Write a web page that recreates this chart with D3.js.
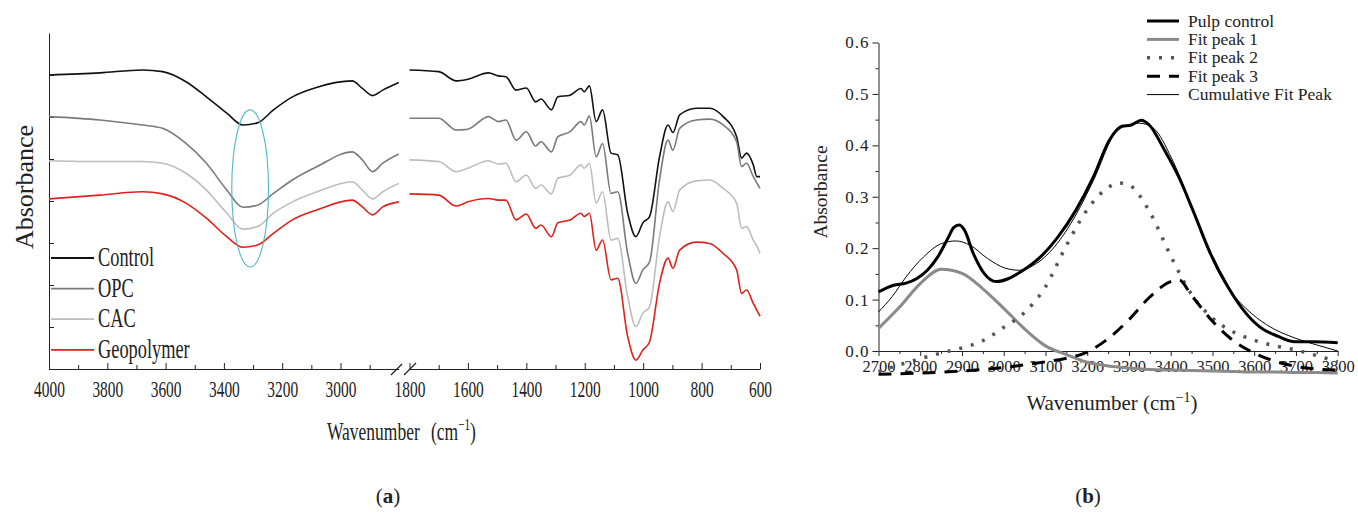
<!DOCTYPE html>
<html>
<head>
<meta charset="utf-8">
<script src="https://cdn.jsdelivr.net/npm/d3@7/dist/d3.min.js"></script>
<style>
    body { margin: 0; background: #fff; }
    svg text { font-family: 'Liberation Serif', 'Times New Roman', serif; fill: #222; }
</style>
</head>
<body>
<svg id="chart" width="1358" height="521"></svg>
<script>
//panel (a): wavenumbers of the two axis segments
const highWn = [4000, 3825, 3680, 3610, 3530, 3460, 3390, 3335, 3285, 3230, 3165, 3080, 2960, 2925, 2890, 2855, 2800]
const lowWn = [1800, 1700, 1640, 1600, 1530, 1495, 1470, 1435, 1400, 1368, 1350, 1314, 1292, 1250, 1213, 1202, 1184, 1161, 1139, 1110,
    1087, 1053, 1025, 1001, 978, 944, 915, 898, 875, 818, 772, 726, 680, 663, 646, 623, 611, 600]

//panel (a): absorbance (offset, arbitrary units)
const controlHigh = [7.00, 7.05, 7.12, 7.08, 6.84, 6.48, 6.09, 5.81, 5.86, 6.17, 6.48, 6.71, 6.86, 6.68, 6.51, 6.64, 6.82]
const opcHigh = [6.01, 5.93, 5.81, 5.73, 5.37, 4.90, 4.26, 3.85, 3.90, 4.18, 4.50, 4.82, 5.17, 4.98, 4.70, 4.90, 5.12]
const cacHigh = [4.96, 4.94, 4.94, 4.90, 4.66, 4.26, 3.71, 3.33, 3.39, 3.71, 3.98, 4.22, 4.46, 4.26, 4.05, 4.22, 4.42]
const geoHigh = [4.05, 4.14, 4.22, 4.17, 3.95, 3.59, 3.15, 2.90, 2.95, 3.23, 3.55, 3.79, 4.02, 3.86, 3.67, 3.86, 3.98]

const controlLow = [7.12, 7.08, 6.86, 6.90, 7.05, 6.98, 6.96, 6.64, 6.69, 6.36, 6.43, 6.17, 6.48, 6.52, 6.68, 6.60, 6.74, 5.89, 6.17, 5.14,
    5.10, 3.71, 3.15, 3.48, 3.63, 5.05, 5.81, 5.63, 6.05, 6.21, 6.21, 6.01, 5.53, 5.02, 5.14, 4.86, 4.58, 4.58]
const opcLow = [5.97, 5.97, 5.69, 5.71, 6.01, 5.89, 5.93, 5.45, 5.65, 5.31, 5.41, 5.17, 5.53, 5.65, 5.89, 5.81, 6.02, 5.05, 5.37, 4.18,
    4.22, 2.75, 2.04, 2.36, 2.55, 4.50, 5.45, 5.21, 5.73, 5.93, 5.95, 5.81, 5.41, 4.82, 4.90, 4.58, 4.43, 4.30]
const cacLow = [4.98, 4.94, 4.70, 4.78, 4.96, 4.88, 4.90, 4.46, 4.62, 4.30, 4.38, 4.17, 4.54, 4.62, 4.86, 4.78, 4.90, 3.95, 4.22, 3.07,
    3.11, 1.72, 1.01, 1.33, 1.48, 3.15, 3.98, 3.75, 4.26, 4.48, 4.50, 4.30, 3.95, 3.35, 3.39, 3.07, 2.93, 2.75]
const geoLow = [4.17, 4.14, 3.88, 3.98, 4.06, 4.02, 4.02, 3.55, 3.69, 3.35, 3.43, 3.15, 3.48, 3.55, 3.71, 3.63, 3.71, 2.83, 3.07, 2.12,
    2.16, 0.77, 0.21, 0.45, 0.65, 2.04, 2.64, 2.40, 2.83, 3.02, 2.99, 2.75, 2.36, 1.80, 1.88, 1.56, 1.40, 1.26]

const seriesA = [
    { name: 'Control', color: '#111', high: controlHigh, low: controlLow },
    { name: 'OPC', color: '#7a7a7a', high: opcHigh, low: opcLow },
    { name: 'CAC', color: '#bdbdbd', high: cacHigh, low: cacLow },
    { name: 'Geopolymer', color: '#e0201c', high: geoHigh, low: geoLow }
]

//panel (b): pulp control and fitted peaks
const pulpWn = [2700, 2736, 2766, 2792, 2817, 2842, 2868, 2880, 2893, 2906, 2927, 2953, 2982, 3012, 3041, 3088, 3130, 3173, 3215, 3253,
    3283, 3304, 3330, 3347, 3385, 3419, 3453, 3495, 3537, 3571, 3613, 3656, 3698, 3741, 3800]
const pulpAbs = [0.115, 0.128, 0.132, 0.141, 0.157, 0.183, 0.222, 0.240, 0.245, 0.235, 0.190, 0.151, 0.135, 0.141, 0.154, 0.183, 0.222, 0.274, 0.339, 0.410,
    0.437, 0.439, 0.449, 0.441, 0.391, 0.339, 0.274, 0.190, 0.125, 0.083, 0.047, 0.029, 0.018, 0.018, 0.016]
const peak1Wn = [2700, 2750, 2800, 2850, 2900, 2950, 3000, 3050, 3100, 3150, 3200, 3250, 3300, 3350, 3400, 3450, 3500, 3550, 3600, 3650, 3700, 3750, 3800]
const peak1Abs = [0.044, 0.085, 0.131, 0.159, 0.151, 0.121, 0.083, 0.043, 0.010, -0.007, -0.022, -0.029, -0.033, -0.036, -0.037, -0.038, -0.039, -0.040, -0.041, -0.041, -0.042, -0.042, -0.043]
const peak2Wn = [2700, 2750, 2800, 2850, 2900, 2950, 3000, 3050, 3100, 3150, 3200, 3250, 3275, 3300, 3350, 3400, 3450, 3500, 3550, 3600, 3650, 3700, 3750, 3800]
const peak2Abs = [-0.040, -0.027, -0.015, -0.004, 0.006, 0.020, 0.046, 0.075, 0.125, 0.205, 0.275, 0.318, 0.327, 0.323, 0.270, 0.185, 0.110, 0.064, 0.037, 0.021, 0.010, 0.002, -0.009, -0.021]
const peak3Wn = [2700, 2800, 2900, 3000, 3100, 3150, 3200, 3250, 3300, 3350, 3400, 3420, 3450, 3500, 3550, 3600, 3650, 3700, 3750, 3800]
const peak3Abs = [-0.045, -0.043, -0.039, -0.032, -0.021, -0.014, -0.002, 0.024, 0.061, 0.105, 0.135, 0.138, 0.108, 0.058, 0.020, -0.004, -0.020, -0.030, -0.035, -0.037]
const cumWn = [2700, 2733, 2766, 2808, 2851, 2885, 2919, 2961, 3004, 3038, 3072, 3122, 3173, 3215, 3266, 3300, 3325, 3359, 3402, 3444,
    3486, 3529, 3580, 3630, 3698, 3749, 3800]
const cumAbs = [0.076, 0.106, 0.144, 0.183, 0.209, 0.214, 0.206, 0.180, 0.161, 0.157, 0.167, 0.203, 0.265, 0.332, 0.423, 0.440, 0.443, 0.433, 0.375, 0.294,
    0.203, 0.132, 0.083, 0.051, 0.025, 0.012, 0.000]

const seriesB = [
    { name: 'Pulp control', wn: pulpWn, abs: pulpAbs, color: '#000', width: 3, dash: null },
    { name: 'Fit peak 1', wn: peak1Wn, abs: peak1Abs, color: '#8a8a8a', width: 3, dash: null },
    { name: 'Fit peak 2', wn: peak2Wn, abs: peak2Abs, color: '#555', width: 3.5, dash: '3,9' },
    { name: 'Fit peak 3', wn: peak3Wn, abs: peak3Abs, color: '#000', width: 3, dash: '13,9' },
    { name: 'Cumulative Fit Peak', wn: cumWn, abs: cumAbs, color: '#000', width: 1, dash: null }
]

const svg = d3.select('#chart')
svg.append('rect').attr('width', 1358).attr('height', 521).attr('fill', '#fff')

// ---------------- panel (a) ----------------
const xHigh = d3.scaleLinear().domain([4000, 2800]).range([49, 398.8])
const xLow = d3.scaleLinear().domain([1800, 600]).range([409.5, 760])
const yA = d3.scaleLinear().domain([0, 8]).range([369, 33])

const gA = svg.append('g').attr('color', '#222')

//x axis segments, ticks pointing inwards
const styleTicksA = sel => sel.selectAll('text')
    .style('font-size', '23px')
    .attr('transform', 'scale(0.67,1)')

const addSegment = (scale, major, minor) => {
    gA.append('g')
        .attr('transform', `translate(0, ${yA(0)})`)
        .call(d3.axisBottom(scale).tickValues(major).tickSizeInner(-6).tickSizeOuter(0).tickPadding(12).tickFormat(d3.format('d')))
        .call(styleTicksA)
    gA.append('g')
        .attr('transform', `translate(0, ${yA(0)})`)
        .call(d3.axisBottom(scale).tickValues(minor).tickSizeInner(-4).tickSizeOuter(0).tickFormat(''))
        .call(g => g.select('.domain').remove())
}
addSegment(xHigh, d3.range(4000, 2999, -200), d3.range(3900, 2899, -200))
addSegment(xLow, d3.range(1800, 599, -200), d3.range(1700, 699, -200))

//axis break marks
gA.append('line').attr('x1', 391).attr('y1', 375).attr('x2', 402).attr('y2', 364).attr('stroke', '#222').attr('stroke-width', 1.2)
gA.append('line').attr('x1', 404).attr('y1', 375).attr('x2', 416).attr('y2', 363).attr('stroke', '#222').attr('stroke-width', 1.2)

//y axis, no labels
gA.append('g')
    .attr('transform', `translate(${xHigh(4000)}, 0)`)
    .call(d3.axisLeft(yA).tickValues(d3.range(0, 8)).tickSizeInner(-5).tickSizeOuter(0).tickFormat(''))

//spectra
const lineHigh = d3.line().x((d, i) => xHigh(highWn[i])).y(d => yA(d)).curve(d3.curveMonotoneX)
const lineLow = d3.line().x((d, i) => xLow(lowWn[i])).y(d => yA(d)).curve(d3.curveMonotoneX)

seriesA.forEach(s => {
    gA.append('path').datum(s.high)
        .attr('fill', 'none').attr('stroke', s.color).attr('stroke-width', 1.6)
        .attr('stroke-linejoin', 'round').attr('d', lineHigh)
    gA.append('path').datum(s.low)
        .attr('fill', 'none').attr('stroke', s.color).attr('stroke-width', 1.6)
        .attr('stroke-linejoin', 'round').attr('d', lineLow)
})

//cyan ellipse marking the O-H band
gA.append('ellipse')
    .attr('cx', xHigh(3310))
    .attr('cy', yA(4.30))
    .attr('rx', xHigh(3247) - xHigh(3310))
    .attr('ry', yA(2.43) - yA(4.30))
    .attr('fill', 'none')
    .attr('stroke', '#4db8cc')
    .attr('stroke-width', 1.1)

//legend
const legA = gA.selectAll('.legA').data(seriesA).enter().append('g')
    .attr('class', 'legA')
    .attr('transform', (d, i) => `translate(0, ${266 + i * 30.6})`)
legA.append('line').attr('x1', 51).attr('x2', 94).attr('y1', -8).attr('y2', -8)
    .attr('stroke', d => d.color).attr('stroke-width', 1.8)
legA.append('text')
    .attr('transform', 'translate(98, 0) scale(0.68,1)')
    .style('font-size', '27px')
    .text(d => d.name)

//axis titles
gA.append('text')
    .attr('transform', 'translate(33, 187) rotate(-90)')
    .attr('text-anchor', 'middle')
    .style('font-size', '26px')
    .text('Absorbance')

const titleA = gA.append('text')
    .attr('transform', 'translate(327, 440) scale(0.7,1)')
    .style('font-size', '25px')
titleA.append('tspan').text('Wavenumber')
titleA.append('tspan').attr('dx', 16).text('(cm')
titleA.append('tspan').attr('dy', -10).style('font-size', '16px').text('−1')
titleA.append('tspan').attr('dy', 10).text(')')

// ---------------- panel (b) ----------------
const xB = d3.scaleLinear().domain([2700, 3800]).range([878.5, 1337.7])
const yB = d3.scaleLinear().domain([0, 0.6]).range([351, 42.5])

const gB = svg.append('g').attr('color', '#222')

gB.append('g')
    .attr('transform', `translate(0, ${yB(0)})`)
    .call(d3.axisBottom(xB).tickValues(d3.range(2700, 3801, 100)).tickSizeInner(5).tickSizeOuter(0).tickPadding(4).tickFormat(d3.format('d')))
    .call(g => g.selectAll('text').style('font-size', '16.5px'))
gB.append('g')
    .attr('transform', `translate(0, ${yB(0)})`)
    .call(d3.axisBottom(xB).tickValues(d3.range(2750, 3800, 100)).tickSizeInner(3).tickSizeOuter(0).tickFormat(''))
    .call(g => g.select('.domain').remove())

gB.append('g')
    .attr('transform', `translate(${xB(2700)}, 0)`)
    .call(d3.axisLeft(yB).tickValues(d3.range(0, 0.61, 0.1)).tickSizeInner(6).tickSizeOuter(0).tickPadding(3).tickFormat(d3.format('.1f')))
    .call(g => g.selectAll('text').style('font-size', '17px').style('letter-spacing', '1px'))
gB.append('g')
    .attr('transform', `translate(${xB(2700)}, 0)`)
    .call(d3.axisLeft(yB).tickValues(d3.range(0.05, 0.6, 0.1)).tickSizeInner(3).tickSizeOuter(0).tickFormat(''))
    .call(g => g.select('.domain').remove())

//fitted curves, drawn back to front
const lineB = d3.line().x(d => xB(d[0])).y(d => yB(d[1])).curve(d3.curveMonotoneX)
const drawOrder = [1, 2, 3, 0, 4]
drawOrder.forEach(k => {
    const s = seriesB[k]
    gB.append('path')
        .datum(s.wn.map((w, i) => [w, s.abs[i]]))
        .attr('fill', 'none')
        .attr('stroke', s.color)
        .attr('stroke-width', s.width)
        .attr('stroke-dasharray', s.dash)
        .attr('stroke-linejoin', 'round')
        .attr('d', lineB)
})

//legend
const legB = gB.selectAll('.legB').data(seriesB).enter().append('g')
    .attr('class', 'legB')
    .attr('transform', (d, i) => `translate(0, ${26.5 + i * 18.4})`)
legB.append('line').attr('x1', 1147).attr('x2', 1179).attr('y1', -5.5).attr('y2', -5.5)
    .attr('stroke', d => d.color)
    .attr('stroke-width', d => d.width)
    .attr('stroke-dasharray', d => d.dash)
legB.append('text')
    .attr('x', 1188)
    .style('font-size', '17.5px')
    .text(d => d.name)

//axis titles
gB.append('text')
    .attr('transform', 'translate(827, 192) rotate(-90)')
    .attr('text-anchor', 'middle')
    .style('font-size', '19.5px')
    .text('Absorbance')

const titleB = gB.append('text')
    .attr('x', 1112).attr('y', 410)
    .attr('text-anchor', 'middle')
    .style('font-size', '21px')
titleB.append('tspan').text('Wavenumber (cm')
titleB.append('tspan').attr('dy', -8).style('font-size', '14px').text('−1')
titleB.append('tspan').attr('dy', 8).text(')')

// ---------------- captions ----------------
const caption = (x, letter) => {
    const t = svg.append('text').attr('x', x).attr('y', 503).attr('text-anchor', 'middle').style('font-size', '21px')
    t.append('tspan').text('(')
    t.append('tspan').style('font-weight', 'bold').text(letter)
    t.append('tspan').text(')')
}
caption(388, 'a')
caption(1088, 'b')
</script>
</body>
</html>
